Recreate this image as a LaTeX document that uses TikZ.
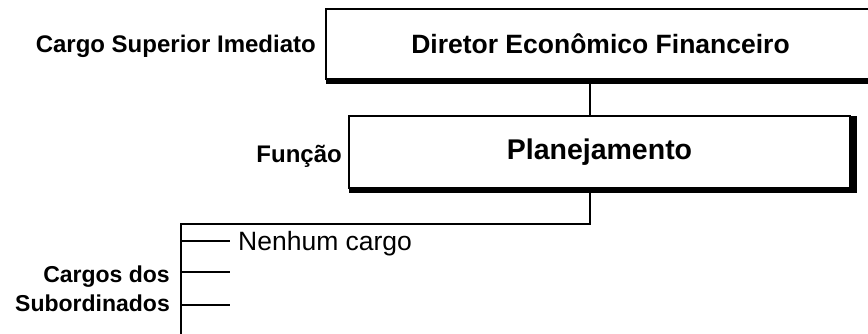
\documentclass[tikz,border=0pt]{standalone}
\usepackage{fontspec}
\setmainfont{Liberation Sans}
\usetikzlibrary{positioning}

\tikzset{
  caixa/.style={draw, line width=2.5pt, inner sep=0pt, outer sep=0pt, anchor=north west},
  rotulo/.style={font=\bfseries\fontsize{24}{29}\selectfont, inner sep=0pt},
  linha/.style={line width=2pt},
}

\begin{document}
\begin{tikzpicture}[x=1pt, y=-1pt]

    \useasboundingbox (0,0) rectangle (868,333);

    % caixas
    \node[caixa, minimum width=549pt, minimum height=70pt,
      font=\bfseries\fontsize{26.5}{30}\selectfont] (diretor) at (326,9) {Diretor Econ\^omico Financeiro};
    \node[caixa, minimum width=501pt, minimum height=72pt,
      font=\bfseries\fontsize{28.5}{32}\selectfont] (plan) at (349,116) {Planejamento};

    % bordas grossas (sombra)
    \foreach \b in {diretor, plan}
    {
      \draw[line width=6pt] ([yshift=-2pt]\b.south west) -- ([yshift=-2pt, xshift=7pt]\b.south east);
      \draw[line width=8pt] ([xshift=3pt]\b.north east) -- ([xshift=3pt, yshift=-5pt]\b.south east);
    }

    % rotulos
    \node[rotulo, anchor=base east] (superior) at ([xshift=-10pt, yshift=-8pt]diretor.west) {Cargo Superior Imediato};
    \node[rotulo, anchor=base east] (funcao) at ([xshift=-7pt, yshift=-10pt]plan.west) {Fun\c{c}\~ao};

    % ligacoes
    \coordinate (eixo) at (590,0);
    \coordinate (barra) at (181,223.5);
    \coordinate (fim) at (181,345);
    \draw[linha] (diretor.south -| eixo) -- (plan.north -| eixo);
    \draw[linha] (plan.south -| eixo) |- (barra) -- (fim);

    \foreach \i/\y in {1/241, 2/272, 3/305}
    {
      \coordinate (r\i) at (230,\y);
      \draw[linha] (barra |- r\i) -- (r\i);
    }

    \node[anchor=base west, inner sep=0pt, font=\fontsize{26.5}{30}\selectfont] (nenhum)
      at ([xshift=8pt, yshift=-9.5pt]r1) {Nenhum cargo};

    \node[rotulo, align=right, anchor=base east, font=\bfseries\fontsize{23}{29}\selectfont] (subord)
      at (170,311) {Cargos dos\\Subordinados};

\end{tikzpicture}
\end{document}
